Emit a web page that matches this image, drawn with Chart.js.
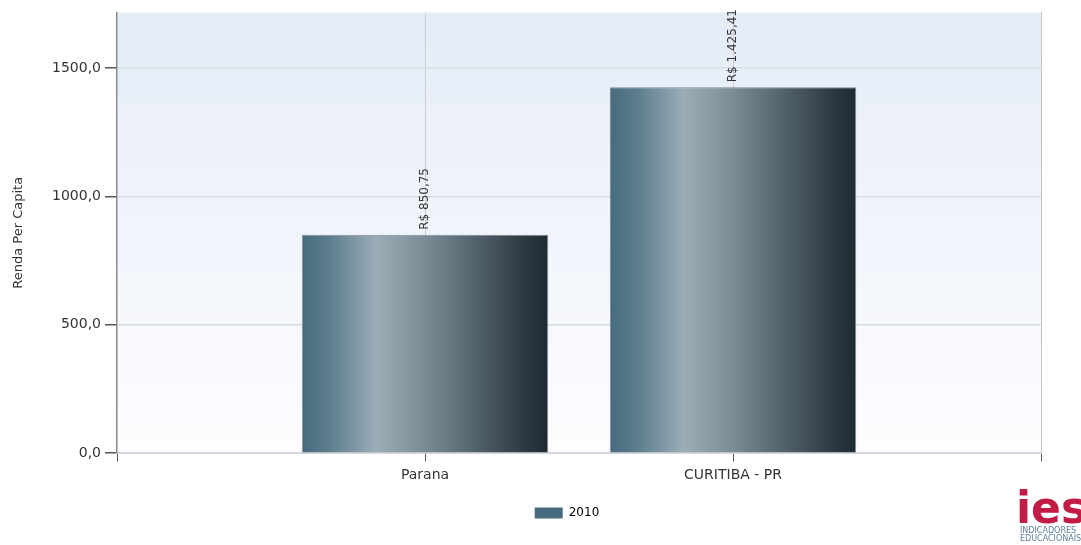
<!DOCTYPE html>
<html>
<head>
<meta charset="utf-8">
<script src="https://cdn.jsdelivr.net/npm/chart.js@4"></script>
<style>
  html, body { margin: 0; padding: 0; background: #fff; }
  #wrap { width: 1081px; height: 545px; }
</style>
</head>
<body>
<div id="wrap"><canvas id="mychart-bar"></canvas></div>
<script>
// renda per capita 2010

var categorias = ['Parana', 'CURITIBA - PR'];
var valores = [850.75, 1425.41];
var serie = '2010';
var ticksY = [0, 500, 1000, 1500];

// l'asse x ha uno slot vuoto prima e dopo
var etichette = [''].concat(categorias, ['']);
var dati = [null].concat(valores, [null]);

function formatoReal(v) {
    var parti = v.toFixed(2).split('.');
    var intero = parti[0].replace(/\B(?=(\d{3})+(?!\d))/g, '.');
    return 'R$ ' + intero + ',' + parti[1];
}

var FONT = 'DejaVu Sans';

var sfondoPlot = {
    id: 'sfondoPlot',
    beforeDraw: function (chart) {
        var a = chart.chartArea;
        var ctx = chart.ctx;
        var g = ctx.createLinearGradient(0, a.top, 0, a.bottom);
        g.addColorStop(0, '#e5ecf7');
        g.addColorStop(1, '#fdfdff');
        ctx.save();
        ctx.fillStyle = g;
        ctx.fillRect(a.left, a.top, a.right - a.left, a.bottom - a.top);
        ctx.restore();
    },
    afterLayout: function (chart) {
        // sposto la legenda un po' a sinistra come nell'originale
        chart.legend.left = 93;
        chart.legend.right = chart.chartArea.right;
    }
};

var etichetteBarre = {
    id: 'etichetteBarre',
    afterDatasetsDraw: function (chart) {
        var ctx = chart.ctx;
        var meta = chart.getDatasetMeta(0);
        ctx.save();
        ctx.font = '12px "' + FONT + '"';
        ctx.fillStyle = '#333';
        ctx.textAlign = 'left';
        ctx.textBaseline = 'middle';
        meta.data.forEach(function (bar, i) {
            var v = dati[i];
            if (v === null) return;
            ctx.save();
            ctx.translate(bar.x, bar.y - 5);
            ctx.rotate(-Math.PI / 2);
            ctx.fillText(formatoReal(v), 0, 0);
            ctx.restore();
        });
        ctx.restore();
    },
    afterDraw: function (chart) {
        // logo ies
        var ctx = chart.ctx;
        ctx.save();
        ctx.fillStyle = '#c21b45';
        ctx.font = 'bold 44px "' + FONT + '"';
        ctx.textBaseline = 'alphabetic';
        ctx.fillText('ies', 1016, 523);
        ctx.fillStyle = '#5b7d9a';
        ctx.font = '8px "' + FONT + '"';
        ctx.fillText('INDICADORES', 1020, 533);
        ctx.fillText('EDUCACIONAIS', 1020, 541);
        ctx.restore();
    }
};

var ctx = document.getElementById('mychart-bar').getContext('2d');
var chart = new Chart(ctx, {
    type: 'bar',
    data: {
        labels: etichette,
        datasets: [{
            label: serie,
            data: dati,
            backgroundColor: function (c) {
                var ch = c.chart;
                if (!ch.chartArea || c.dataIndex === undefined) return '#476a7e';
                var sx = ch.scales.x;
                var passo = sx.getPixelForValue(1) - sx.getPixelForValue(0);
                var centro = sx.getPixelForValue(c.dataIndex);
                var w = passo * 0.8;
                var g = ch.ctx.createLinearGradient(centro - w / 2, 0, centro + w / 2, 0);
                g.addColorStop(0, '#476a7e');
                g.addColorStop(0.12, '#5f7f8f');
                g.addColorStop(0.3, '#9badb7');
                g.addColorStop(0.5, '#7a8c96');
                g.addColorStop(0.72, '#4f5f69');
                g.addColorStop(0.9, '#2d3a42');
                g.addColorStop(1, '#1e2a31');
                return g;
            },
            borderColor: 'rgba(40,50,60,0.55)',
            borderWidth: 1,
            categoryPercentage: 1,
            barPercentage: 0.8
        }]
    },
    options: {
        responsive: true,
        maintainAspectRatio: false,
        animation: false,
        layout: { padding: { top: 11, right: 40, bottom: 16, left: 0 } },
        plugins: {
            legend: {
                position: 'bottom',
                labels: {
                    boxWidth: 28,
                    boxHeight: 11,
                    padding: 17,
                    color: '#333',
                    font: { family: FONT, size: 12 },
                    generateLabels: function () {
                        return [{ text: serie, fillStyle: '#476a7e', strokeStyle: '#476a7e', lineWidth: 0, datasetIndex: 0 }];
                    }
                }
            },
            tooltip: { enabled: false }
        },
        scales: {
            x: {
                offset: false,
                grid: {
                    offset: false,
                    color: function (c) {
                        if (c.index === 0) return 'rgba(0,0,0,0)';
                        if (c.index === etichette.length - 1) return '#c4c4c4';
                        return '#c9cdd2';
                    },
                    tickColor: '#555',
                    tickLength: 8
                },
                border: { color: '#d3d7dc', width: 2 },
                ticks: {
                    autoSkip: false,
                    maxRotation: 0,
                    padding: 6,
                    color: '#333',
                    font: { family: FONT, size: 14 }
                }
            },
            y: {
                min: 0,
                max: 1717,
                afterFit: function (s) { s.width = 117; },
                afterBuildTicks: function (s) {
                    s.ticks = ticksY.map(function (v) { return { value: v }; });
                },
                grid: {
                    color: '#d6dce4',
                    lineWidth: 1.5,
                    tickColor: '#555',
                    tickLength: 12
                },
                border: { color: '#8a8a8a', width: 1.5 },
                ticks: {
                    padding: 4,
                    color: '#333',
                    font: { family: FONT, size: 14 },
                    callback: function (v) { return v.toFixed(1).replace('.', ','); }
                },
                title: {
                    display: true,
                    text: 'Renda Per Capita',
                    color: '#333',
                    font: { family: FONT, size: 13 },
                    padding: { top: 11, bottom: 0 }
                }
            }
        }
    },
    plugins: [sfondoPlot, etichetteBarre]
});
</script>
</body>
</html>
